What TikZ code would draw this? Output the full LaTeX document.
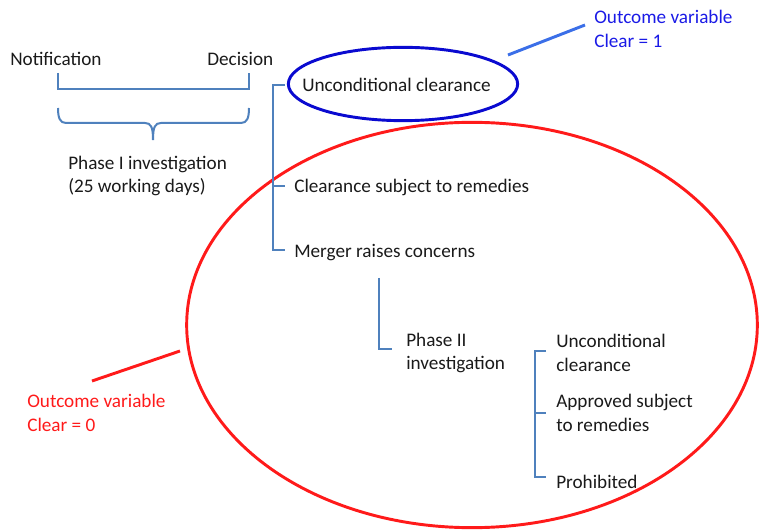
\documentclass[tikz,border=0pt]{standalone}
\usepackage{fontspec}
\setmainfont{Carlito}
\usetikzlibrary{shapes.geometric}
\definecolor{brk}{HTML}{4F81BD}
\definecolor{txt}{HTML}{1A1A1A}
\definecolor{oblue}{HTML}{1A1AE6}
\definecolor{eblue}{HTML}{0A0AD0}
\definecolor{lblue}{HTML}{3B6FE8}
\definecolor{ored}{HTML}{FF1A1A}
\begin{document}
\begin{tikzpicture}[x=0.75pt,y=-0.75pt,
  lbl/.style={anchor=west,inner sep=0pt,text=txt,font=\fontsize{14.4}{17.4}\selectfont,align=left},
  brk/.style={draw=brk,line width=1.5pt},
  ell/.style={draw,ellipse,line width=2.2pt,inner sep=0pt}]
\useasboundingbox (0,0) rectangle (761,531);
% ellipses
\node[ell,draw=eblue,minimum width=172pt,minimum height=55pt] (ellb) at (403,84) {};
\node[ell,draw=ored,minimum width=428pt,minimum height=304pt] (ellr) at (472,325) {};
% texts
\node[lbl] (notif) at (10,59) {Notification};
\node[lbl] (dec) at (207,59) {Decision};
\node[lbl] (ph1) at (68,176) {Phase I investigation\\(25 working days)};
\node[lbl] (uc) at (302,85) {Unconditional clearance};
\node[lbl] (csr) at (294,187) {Clearance subject to remedies};
\node[lbl] (mrc) at (294,253) {Merger raises concerns};
\node[lbl] (ph2) at (406,353) {Phase II\\investigation};
\node[lbl] (uc2) at (556,353) {Unconditional\\clearance};
\node[lbl] (asr) at (556,413) {Approved subject\\to remedies};
\node[lbl] (pro) at (556,482) {Prohibited};
\node[lbl,text=oblue] (ov1) at (594,29) {Outcome variable\\Clear = 1};
\node[lbl,text=ored] (ov0) at (27,413) {Outcome variable\\Clear = 0};
% brackets
\draw[brk] (58,73) -- (58,89) -- (249,89) -- (249,73);
\draw[brk] (58,108) .. controls (58,118) and (60,123) .. (66,123) -- (145,123)
  .. controls (151,123) and (153,127) .. (153,140);
\draw[brk] (153,140) .. controls (153,127) and (155,123) .. (161,123) -- (241,123)
  .. controls (247,123) and (249,118) .. (249,108);
\draw[brk] (285,85) -- (273,85) -- (273,250) -- (285,250);
\draw[brk] (273,186) -- (285,186);
\draw[brk] (379,278) -- (379,349) -- (392,349);
\draw[brk] (546,351) -- (535,351) -- (535,477) -- (546,477);
\draw[brk] (535,413) -- (546,413);
% pointer lines
\coordinate (pb) at (508,55);
\coordinate (pr) at (180,351);
\draw[lblue,line width=2.2pt] (pb) -- (585,25);
\draw[ored,line width=2.2pt] (pr) -- (92,381);
\end{tikzpicture}
\end{document}
